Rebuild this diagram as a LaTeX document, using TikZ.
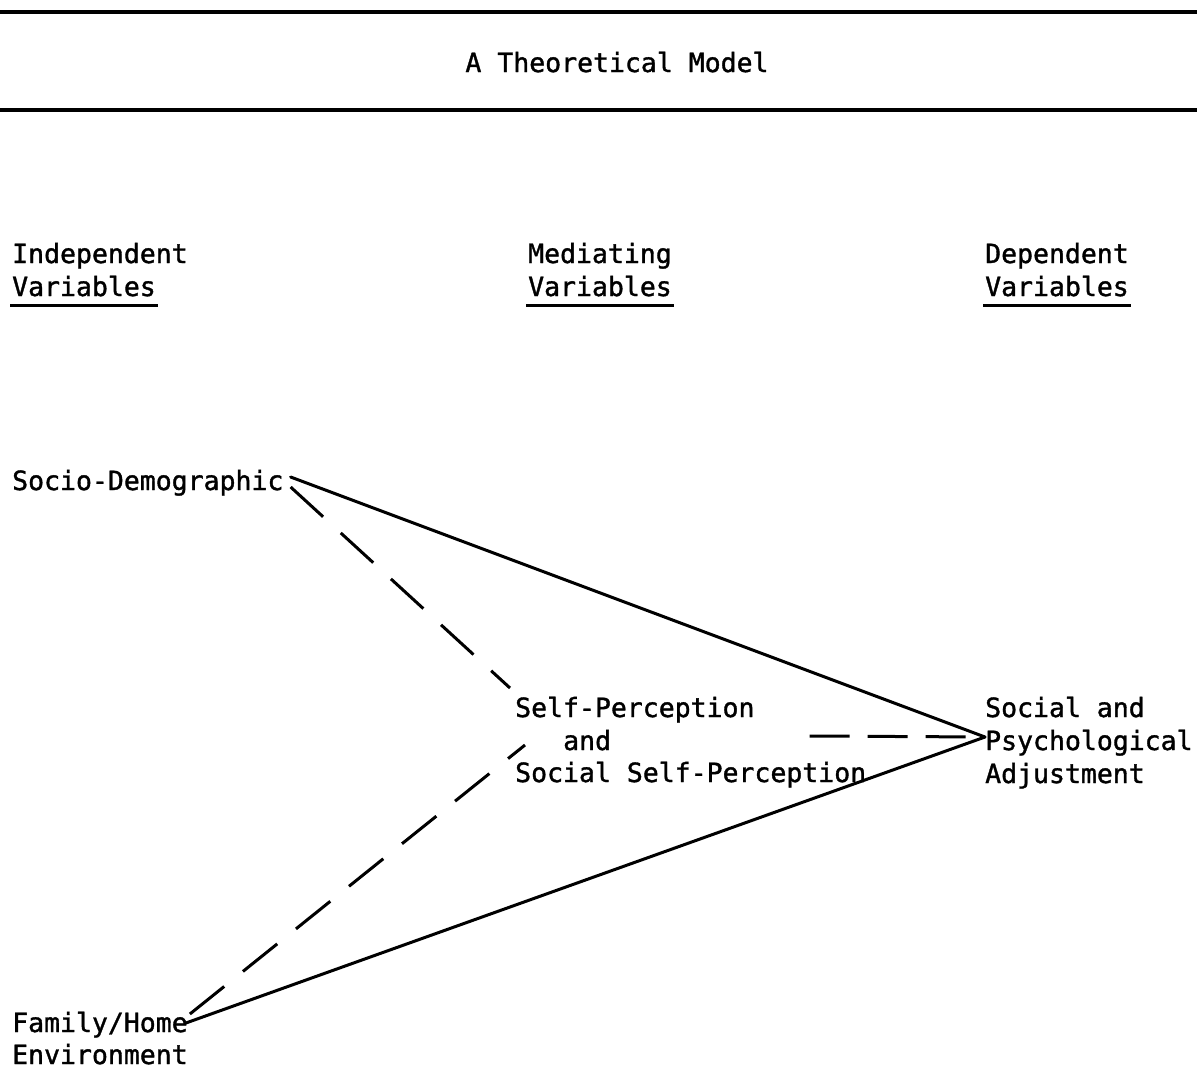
\documentclass[tikz,border=0pt]{standalone}
\usepackage{fontspec}
\newfontfamily\tw[FakeBold=1.3]{DejaVu Sans Mono}
\usetikzlibrary{calc}
\begin{document}
\begin{tikzpicture}[x=1pt,y=-1pt,
  txt/.style={font=\tw\fontsize{26.5}{33}\selectfont, inner sep=0pt, anchor=base west},
  solidline/.style={line width=3pt, line cap=round},
  dashline/.style={line width=3pt, dash pattern=on 44pt off 24pt},
  rule/.style={line width=3.2pt},
  uline/.style={line width=3pt}]
\useasboundingbox (0,0) rectangle (1197,1072);
% title and rules
\draw[rule] (0,12) -- (1197,12);
\node[txt, anchor=base] (title) at (617,72) {A Theoretical Model};
\draw[rule] (0,110) -- (1197,110);
% column headers
\node[txt] (ind1) at (12,263) {Independent};
\node[txt] (ind2) at (12,296) {Variables};
\node[txt] (med1) at (528,263) {Mediating};
\node[txt] (med2) at (528,296) {Variables};
\node[txt] (dep1) at (985,263) {Dependent};
\node[txt] (dep2) at (985,296) {Variables};
\foreach \n in {ind2,med2,dep2}
  \draw[uline] ([xshift=-2pt,yshift=-9pt]\n.base west) -- ([xshift=2pt,yshift=-9pt]\n.base east);
% variables
\node[txt] (sd) at (12,490) {Socio-Demographic};
\node[txt] (sp1) at (515,717) {Self-Perception};
\node[txt] (sp2) at (563,750) {and};
\node[txt] (sp3) at (515,782) {Social Self-Perception};
\node[txt] (spa1) at (985,717) {Social and};
\node[txt] (spa2) at (985,750) {Psychological};
\node[txt] (spa3) at (985,783) {Adjustment};
\node[txt] (fh1) at (12,1032) {Family/Home};
\node[txt] (fh2) at (12,1064) {Environment};
% connection points
\coordinate (apex) at ($(spa2.base west)+(0,-13)$);
% connectors
\draw[solidline] ($(sd.base east)+(7,-13)$) -- (apex);
\draw[solidline] ($(fh1.base east)+(-2,-9)$) -- (apex);
\draw[dashline] ($(sd.base east)+(7,-3)$) -- ($(sp1.base west)+(-5,-29)$);
\draw[dashline] ($(fh1.base east)+(2,-18)$) -- ($(sp3.base west)+(10,-37)$);
\draw[line width=3pt, dash pattern=on 40pt off 18pt] ($(sp1.base east)+(55,19)$) -- (apex);
\end{tikzpicture}
\end{document}
